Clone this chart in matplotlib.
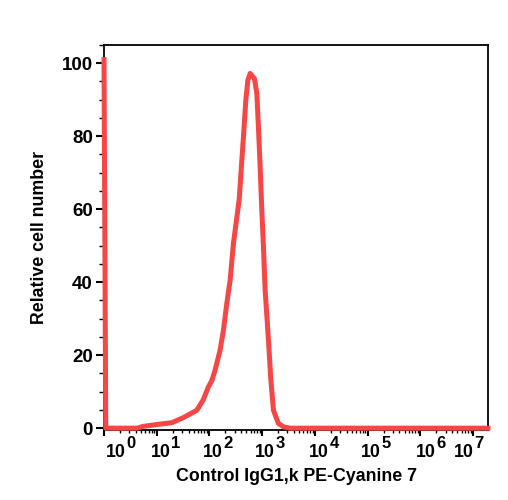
import matplotlib
matplotlib.use("Agg")
import matplotlib.pyplot as plt
import matplotlib.transforms as mtransforms
from matplotlib.ticker import LogLocator, FixedLocator, MultipleLocator, NullFormatter
import numpy as np

# histogram (intensity, relative cell number)
intensity = [1.0, 1.08, 4.23, 5.57, 10, 19.3, 32, 57.4, 75.6, 95.3, 110.6, 127.7, 158.9,
             183.6, 213, 246, 284, 338, 364.6, 410, 440, 488.6, 533, 589, 711, 790, 847,
             912, 982, 1054, 1135, 1312, 1456, 1633, 2028, 2524, 3388, 1.9e7]
cells = [101, 0, 0, 0.5, 1.0, 1.5, 2.9, 4.9, 7.7, 11.3, 13.0, 15.9, 21.4,
         26.8, 34.2, 40.5, 50.6, 58.9, 62.5, 73.4, 79.8, 89.9, 95.3, 97.2, 95.8, 91.7, 82.5,
         71.6, 59.7, 49.7, 37.8, 24.1, 13.2, 4.9, 1.3, 0.36, 0, 0]

decades = [0, 1, 2, 3, 4, 5, 6, 7]
# where the "10" ends, in pixels right of the tick
base_end_px = [22, 14, 13, 13, 14, 13, 15, 1]
y_ticks = [0, 20, 40, 60, 80, 100]

plt.rcParams['font.family'] = ['Liberation Sans', 'DejaVu Sans']
plt.rcParams['font.weight'] = 'bold'

fig = plt.figure(figsize=(5.08, 5.0), dpi=100)
ax = fig.add_axes([104 / 508, 70 / 500, 384 / 508, 385 / 500])

ax.plot(intensity, cells, color='#f64646', lw=3.6, solid_joinstyle='round', clip_on=False, zorder=3)

ax.set_xscale('log')
ax.set_xlim(1, 10 ** 7.28)
ax.set_ylim(-0.5, 105)

ax.xaxis.set_major_locator(FixedLocator([10.0 ** d for d in decades]))
ax.xaxis.set_minor_locator(LogLocator(base=10, subs=np.arange(2, 10), numticks=20))
ax.xaxis.set_minor_formatter(NullFormatter())
ax.tick_params(axis='x', labelbottom=False)

# decade labels: "10" plus a big raised exponent, a bit right of the tick
trans = mtransforms.blended_transform_factory(ax.transData, ax.transAxes)
for d, dx in zip(decades, base_end_px):
    off = mtransforms.ScaledTranslation(dx / 100, -27 / 100, fig.dpi_scale_trans)
    ax.text(10.0 ** d, 0, '10', transform=trans + off,
            ha='right', va='baseline', fontsize=12.8, fontweight='bold')
    off = mtransforms.ScaledTranslation((dx + 0.5) / 100, -18 / 100, fig.dpi_scale_trans)
    ax.text(10.0 ** d, 0, str(d), transform=trans + off,
            ha='left', va='baseline', fontsize=12, fontweight='bold')

ax.yaxis.set_major_locator(FixedLocator(y_ticks))
ax.yaxis.set_minor_locator(MultipleLocator(5))
ax.set_yticklabels([str(v) for v in y_ticks], fontsize=13.5, fontweight='bold')

ax.tick_params(axis='x', which='major', direction='out', length=4, width=1.5)
ax.tick_params(axis='x', which='minor', direction='out', length=2.5, width=1)
ax.tick_params(axis='y', which='major', direction='out', length=6, width=1.5, pad=2)
ax.tick_params(axis='y', which='minor', direction='out', length=3.5, width=1)

for s in ax.spines.values():
    s.set_linewidth(1.3)

ax.set_xlabel('Control IgG1,k PE-Cyanine 7', fontsize=12.8, fontweight='bold', labelpad=21.5)
ax.set_ylabel('Relative cell number', fontsize=12.8, fontweight='bold', labelpad=10)

fig.savefig('out.png', dpi=100)
